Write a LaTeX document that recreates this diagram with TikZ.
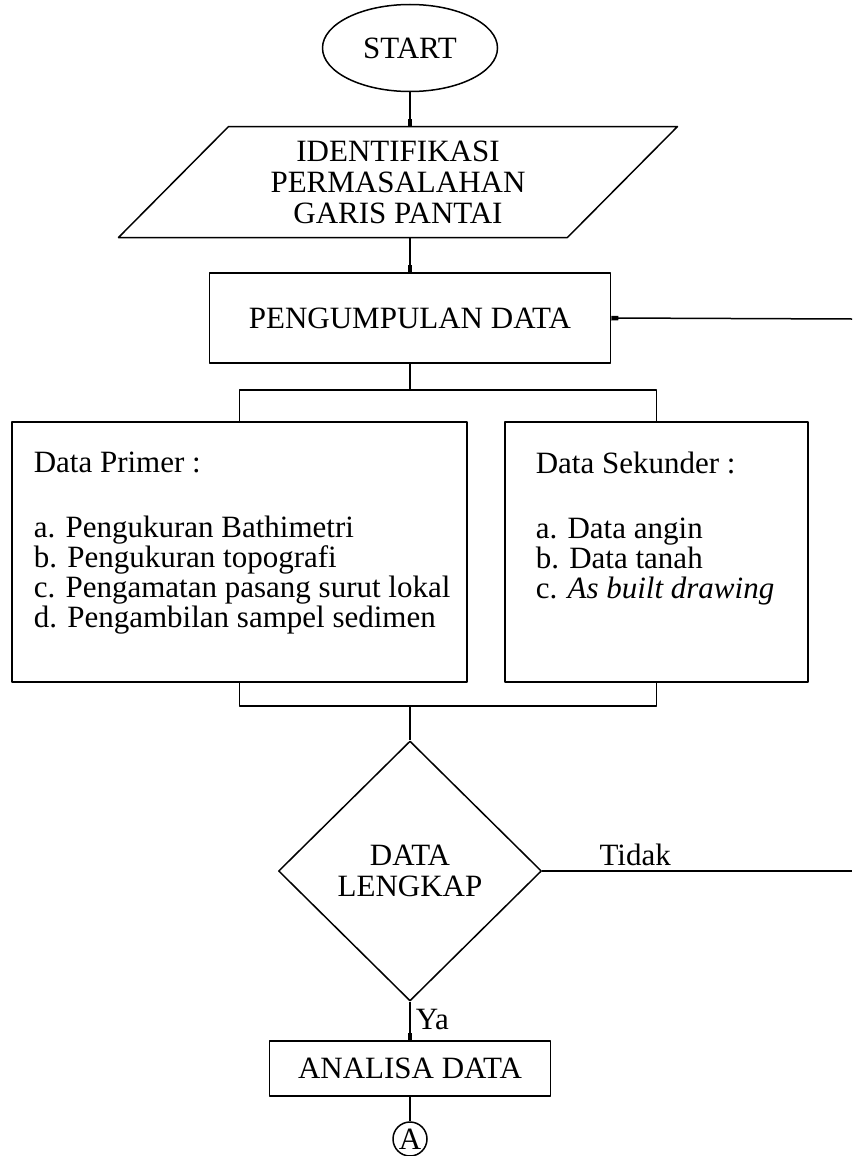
\documentclass[tikz,border=0pt]{standalone}
\usepackage{fontspec}
\setmainfont{Liberation Serif}
\usetikzlibrary{shapes.geometric,arrows.meta,positioning}

\begin{document}
\begin{tikzpicture}[x=1pt, y=-1pt, line join=round, line width=1.5pt,
		font=\fontsize{31}{31}\selectfont, >={Rectangle[length=7pt,width=4.5pt]},
		kotak/.style={draw, rectangle, inner sep=0pt},
		teks/.style={anchor=north west, align=left, inner sep=0pt, font=\fontsize{31}{30}\selectfont}]
	\useasboundingbox (0,0) rectangle (852,1156);
	\clip (0,0) rectangle (852,1156);
	%\draw[gray!30, step=50] (0,0) grid (852,1156);
	\node[draw, ellipse, inner sep=0pt, minimum width=175, minimum height=87] (start) at (410,48) {START};
	\node[draw, trapezium, trapezium left angle=45, trapezium right angle=135, trapezium stretches=true,
		inner sep=0pt, minimum width=562, minimum height=111, align=center] (ident) at (398,182)
		{IDENTIFIKASI\\PERMASALAHAN\\GARIS PANTAI};
	\node[kotak, minimum width=401, minimum height=90] (kumpul) at (410,318) {PENGUMPULAN DATA};
	\node[kotak, minimum width=455, minimum height=260] (primer) at (239.5,552) {};
	\node[kotak, minimum width=303, minimum height=260] (sekunder) at (656.5,552) {};
	\node[teks] (tprimer) at (33,451) {Data Primer :\\[35pt]a. Pengukuran Bathimetri\\b. Pengukuran topografi\\c. Pengamatan pasang surut lokal\\d. Pengambilan sampel sedimen};
	\node[teks] (tsekunder) at (535,451) {Data Sekunder :\\[35pt]a. Data angin\\b. Data tanah\\c. \textit{As built drawing}};
	\node[draw, diamond, inner sep=0pt, minimum width=263, minimum height=260, align=center] (cek) at (410,871) {DATA\\LENGKAP};
	\node[kotak, minimum width=281, minimum height=55] (analisa) at (410,1068.5) {ANALISA DATA};
	\node[draw, circle, inner sep=0pt, minimum size=34] (A) at (410,1139) {A};
	\coordinate (split) at (410,390);
	\coordinate (join) at (410,706);
	\coordinate (fb1) at (852,319);
	\coordinate (fb2) at (852,871);
	% garis penghubung
	\draw[->] (start.south) -- (start.south |- ident.north);
	\draw[->] (start.south |- ident.south) -- (kumpul.north);
	\draw[->] (fb1) -- (kumpul.east);
	\draw (kumpul.south) -- (split);
	\draw (primer.north) |- (split) -| (sekunder.north);
	\draw (primer.south) |- (join) -| (sekunder.south);
	\draw (join) -- (cek.north);
	\draw (cek.east) -- node[pos=0.3, above=4pt, inner sep=0pt] (tidak) {Tidak} (fb2);
	\draw[->] (cek.south) -- node[pos=0.45, right=5pt, inner sep=0pt] (ya) {Ya} (analisa.north);
	\draw (analisa.south) -- (A.north);
\end{tikzpicture}
\end{document}
